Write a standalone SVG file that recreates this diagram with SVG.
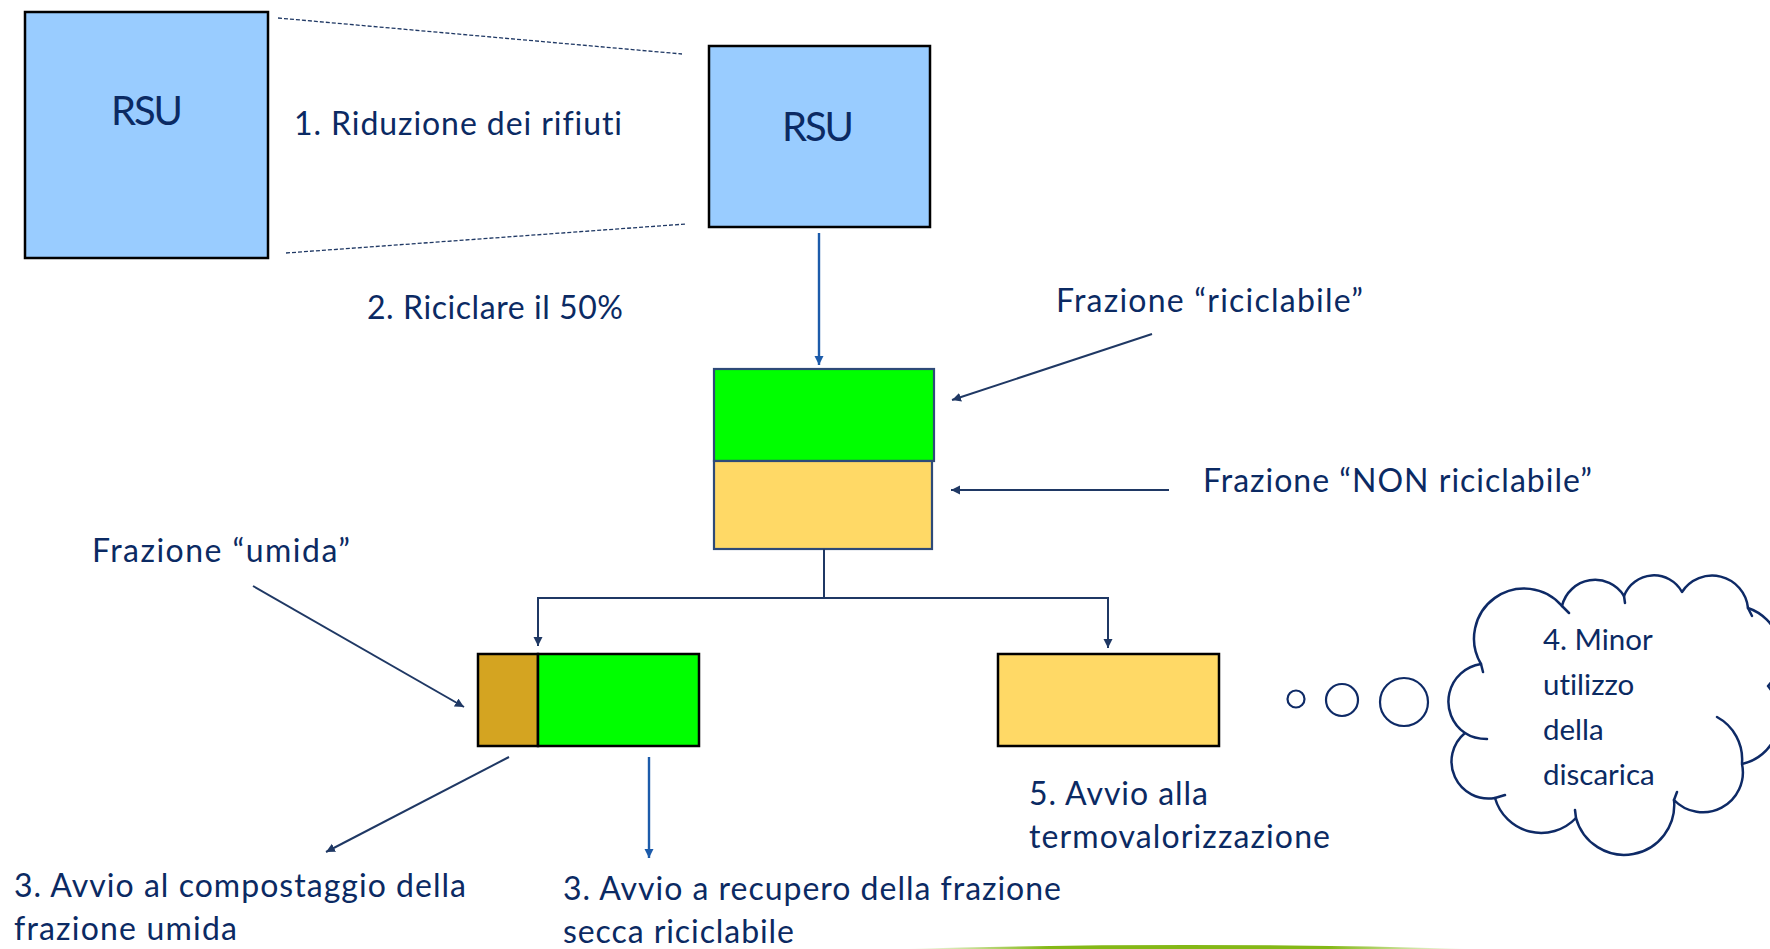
<svg xmlns="http://www.w3.org/2000/svg" width="1770" height="949" viewBox="0 0 1770 949">
<style>
.t{font-family:Lato,"Liberation Sans",sans-serif;fill:#0B2A63;font-size:32px;font-variant-ligatures:none}
.rsu{font-size:40px}
.cl{font-size:29.5px}
.box{stroke:#000;stroke-width:2.5}
.sbox{stroke:#2E4A78;stroke-width:2.2}
.nav{fill:none;stroke:#1F3864;stroke-width:2}
.blu{fill:none;stroke:#1C5BAA;stroke-width:2.4}
.dash{fill:none;stroke:#1F3864;stroke-width:1.3;stroke-dasharray:4 2}
.cloud{fill:none;stroke:#0E2A66;stroke-width:2.5;stroke-linejoin:round;stroke-linecap:round}
</style>
<defs>
<marker id="an" markerWidth="10" markerHeight="10" refX="9" refY="4.5" orient="auto" markerUnits="userSpaceOnUse"><path d="M0,0 L9,4.5 L0,9 z" fill="#1F3864"/></marker>
<marker id="ab" markerWidth="10" markerHeight="10" refX="9" refY="4.5" orient="auto" markerUnits="userSpaceOnUse"><path d="M0,0 L9,4.5 L0,9 z" fill="#1C5BAA"/></marker>
<linearGradient id="gl" x1="0" y1="0" x2="1" y2="0">
<stop offset="0" stop-color="#84B817" stop-opacity="0"/>
<stop offset="0.25" stop-color="#84B817"/>
<stop offset="0.75" stop-color="#84B817"/>
<stop offset="1" stop-color="#84B817" stop-opacity="0"/>
</linearGradient>
</defs>
<rect width="1770" height="949" fill="#fff"/>

<g id="rsu-left">
<rect class="box" x="25" y="12" width="243" height="246" fill="#99CCFF"/>
<text class="t rsu" x="111" y="125" textLength="72">RSU</text>
</g>
<g id="rsu-right">
<rect class="box" x="709" y="46" width="221" height="181" fill="#99CCFF"/>
<text class="t rsu" x="782" y="141" textLength="72">RSU</text>
</g>
<g id="split">
<rect class="sbox" x="714" y="369" width="220" height="92" fill="#00FF00"/>
<rect class="sbox" x="714" y="461" width="218" height="88" fill="#FFD966"/>
</g>
<g id="recycle-box">
<rect class="box" x="478" y="654" width="60" height="92" fill="#D4A421"/>
<rect class="box" x="538" y="654" width="161" height="92" fill="#00FF00"/>
</g>
<g id="waste-box">
<rect class="box" x="998" y="654" width="221" height="92" fill="#FFD966"/>
</g>
<g id="cloud">
<circle cx="1296" cy="699" r="8.5" fill="#fff" stroke="#0E2A66" stroke-width="2.2"/>
<circle cx="1342" cy="700" r="16" fill="#fff" stroke="#0E2A66" stroke-width="2.2"/>
<circle cx="1404" cy="702" r="24" fill="#fff" stroke="#0E2A66" stroke-width="2.2"/>
<path class="cloud" fill="#fff" d="M1481 664 A50 50 0 0 1 1562 606 A34 34 0 0 1 1624 596 A32 32 0 0 1 1682 592 A36 36 0 0 1 1748 608 A48 48 0 0 1 1768 686 A48 48 0 0 1 1742 764 A40 40 0 0 1 1674 800 A50 50 0 0 1 1576 818 A48 48 0 0 1 1495 798 A37 37 0 0 1 1465 733 A38 38 0 0 1 1481 664 Z"/>
<path class="cloud" d="M1717 717 A48 48 0 0 1 1742 763 M1465 733 Q1474 739 1487 739 M1495 798 L1505 795 M1576 818 L1575 810 M1674 800 L1677 792 M1562 606 L1569 613 M1624 596 L1625 603 M1748 608 L1752 616 M1481 664 L1483 672"/>
<text class="t cl" x="1543" y="650">4. Minor</text>
<text class="t cl" x="1543" y="695">utilizzo</text>
<text class="t cl" x="1543" y="740">della</text>
<text class="t cl" x="1543" y="785">discarica</text>
</g>

<g id="connectors">
<line class="dash" x1="278" y1="18" x2="682" y2="54"/>
<line class="dash" x1="286" y1="253" x2="686" y2="224"/>
<path class="blu" d="M819 233 V365" marker-end="url(#ab)"/>
<path class="nav" d="M1152 334 L952 400" marker-end="url(#an)"/>
<path class="nav" d="M1169 490 H951" stroke-width="2.8" marker-end="url(#an)"/>
<path class="nav" d="M824 549 V598 H538 V646" marker-end="url(#an)"/>
<path class="nav" d="M824 598 H1108 V648" marker-end="url(#an)"/>
<path class="nav" d="M253 586 L464 707" marker-end="url(#an)"/>
<path class="nav" d="M509 757 L326 852" marker-end="url(#an)"/>
<path class="blu" d="M649 757 V858" marker-end="url(#ab)"/>
</g>

<g id="labels">
<text class="t" x="294" y="135" textLength="328">1. Riduzione dei rifiuti</text>
<text class="t" x="367" y="319" textLength="256">2. Riciclare il 50%</text>
<text class="t" x="1056" y="312" textLength="307">Frazione “riciclabile”</text>
<text class="t" x="1203" y="492" textLength="389">Frazione “NON riciclabile”</text>
<text class="t" x="92" y="562" textLength="258">Frazione “umida”</text>
<text class="t" x="14" y="897" textLength="452">3. Avvio al compostaggio della</text>
<text class="t" x="14" y="940" textLength="223">frazione umida</text>
<text class="t" x="563" y="900" textLength="498">3. Avvio a recupero della frazione</text>
<text class="t" x="563" y="943" textLength="231">secca riciclabile</text>
<text class="t" x="1029" y="805" textLength="179">5. Avvio alla</text>
<text class="t" x="1029" y="848" textLength="301">termovalorizzazione</text>
</g>
<path d="M905 949 Q1187 941 1470 949 Z" fill="url(#gl)"/>
</svg>
